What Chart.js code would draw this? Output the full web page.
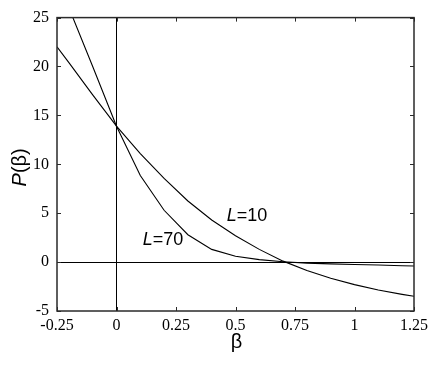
<!DOCTYPE html>
<html lang="en">
  <head>
    <meta charset="UTF-8" />
    <script src="https://cdn.jsdelivr.net/npm/chart.js@4/dist/chart.umd.min.js"></script>
    <title>P(beta)</title>
    <style>
      body { margin: 0; background: #fff; }
    </style>
  </head>
  <body>
    <canvas id="myChart" width="436" height="368"></canvas>
    <script>
      // values
      const betaL10 = [-0.25, -0.2, -0.1, 0, 0.1, 0.2, 0.3, 0.4, 0.5, 0.6, 0.7, 0.8, 0.9, 1.0, 1.1, 1.2, 1.25];
      const pL10 = [22.0, 20.4, 17.1, 13.9, 11.1, 8.55, 6.25, 4.3, 2.7, 1.3, 0.1, -0.85, -1.65, -2.3, -2.85, -3.3, -3.5];
      const betaL70 = [-0.2, -0.1, 0, 0.1, 0.2, 0.3, 0.4, 0.5, 0.6, 0.7, 0.8, 0.9, 1.0, 1.1, 1.2, 1.25];
      const pL70 = [26.0, 20.0, 13.9, 8.85, 5.3, 2.8, 1.3, 0.6, 0.25, 0.03, -0.1, -0.18, -0.25, -0.3, -0.37, -0.4];
      const xTicks = [-0.25, 0, 0.25, 0.5, 0.75, 1, 1.25];
      const yTicks = [-5, 0, 5, 10, 15, 20, 25];
      const curveLabels = [
        { num: "=10", x: 0.548, y: 4.7 },
        { num: "=70", x: 0.195, y: 2.3 },
      ];

      function toPoints(xs, ys) {
        return xs.map((x, i) => ({ x: x, y: ys[i] }));
      }

      const serif = "'Liberation Serif', 'Times New Roman', serif";
      const sans = "'Liberation Sans', Arial, sans-serif";

      // frame, inward ticks, axis titles and curve labels
      const decor = {
        id: "decor",
        afterDraw(chart) {
          const ctx = chart.ctx;
          const a = chart.chartArea;
          const xs = chart.scales.x;
          const ys = chart.scales.y;
          ctx.save();
          ctx.strokeStyle = "#2a2a2a";
          ctx.lineWidth = 1.5;
          ctx.strokeRect(a.left, a.top, a.right - a.left, a.bottom - a.top);
          ctx.lineWidth = 1;
          ctx.beginPath();
          const t = 4;
          xTicks.forEach((v) => {
            const px = Math.round(xs.getPixelForValue(v)) + 0.5;
            ctx.moveTo(px, a.bottom);
            ctx.lineTo(px, a.bottom - t);
            ctx.moveTo(px, a.top);
            ctx.lineTo(px, a.top + t);
          });
          yTicks.forEach((v) => {
            const py = Math.round(ys.getPixelForValue(v)) + 0.5;
            ctx.moveTo(a.left, py);
            ctx.lineTo(a.left + t, py);
            ctx.moveTo(a.right, py);
            ctx.lineTo(a.right - t, py);
          });
          ctx.stroke();

          ctx.fillStyle = "#000";
          ctx.textBaseline = "middle";
          // x title
          ctx.font = "20px " + sans;
          ctx.textAlign = "center";
          ctx.fillText("\u03b2", (a.left + a.right) / 2 + 1, 342);

          // y title, P in italics
          ctx.save();
          ctx.translate(20, (a.top + a.bottom) / 2 + 3);
          ctx.rotate(-Math.PI / 2);
          ctx.textAlign = "left";
          ctx.font = "italic 20px " + sans;
          const wP = ctx.measureText("P").width;
          ctx.font = "20px " + sans;
          const wR = ctx.measureText("(\u03b2)").width;
          let x0 = -(wP + wR) / 2;
          ctx.font = "italic 20px " + sans;
          ctx.fillText("P", x0, 0);
          ctx.font = "20px " + sans;
          ctx.fillText("(\u03b2)", x0 + wP, 0);
          ctx.restore();

          // curve labels
          curveLabels.forEach((lb) => {
            const cx = xs.getPixelForValue(lb.x);
            const cy = ys.getPixelForValue(lb.y);
            ctx.font = "italic 18px " + sans;
            const w1 = ctx.measureText("L").width;
            ctx.font = "18px " + sans;
            const w2 = ctx.measureText(lb.num).width;
            const lx = cx - (w1 + w2) / 2;
            ctx.textAlign = "left";
            ctx.font = "italic 18px " + sans;
            ctx.fillText("L", lx, cy);
            ctx.font = "18px " + sans;
            ctx.fillText(lb.num, lx + w1, cy);
          });
          ctx.restore();
        },
      };

      const zeroLine = (c) => (c.tick && c.tick.value === 0 ? "#000" : "rgba(0,0,0,0)");

      const config = {
        type: "scatter",
        data: {
          datasets: [
            {
              label: "L=10",
              data: toPoints(betaL10, pL10),
              showLine: true,
              borderColor: "#000",
              borderWidth: 1.1,
              pointRadius: 0,
              tension: 0,
              clip: 0,
            },
            {
              label: "L=70",
              data: toPoints(betaL70, pL70),
              showLine: true,
              borderColor: "#000",
              borderWidth: 1.1,
              pointRadius: 0,
              tension: 0,
              clip: 0,
            },
          ],
        },
        options: {
          responsive: false,
          animation: false,
          layout: { padding: { top: 16, right: 22, left: 0, bottom: 0 } },
          plugins: {
            legend: { display: false },
            tooltip: { enabled: false },
          },
          scales: {
            x: {
              type: "linear",
              min: -0.25,
              max: 1.25,
              afterBuildTicks: (s) => {
                s.ticks = xTicks.map((v) => ({ value: v }));
              },
              afterFit: (s) => {
                s.height = 57;
              },
              grid: { color: zeroLine, lineWidth: 1, drawTicks: false },
              border: { display: false },
              ticks: {
                color: "#000",
                padding: 5,
                maxRotation: 0,
                font: { family: serif, size: 16 },
                callback: (v) => String(v),
              },
            },
            y: {
              type: "linear",
              min: -5,
              max: 25,
              afterBuildTicks: (s) => {
                s.ticks = yTicks.map((v) => ({ value: v }));
              },
              afterFit: (s) => {
                s.width = 57;
              },
              grid: { color: zeroLine, lineWidth: 1, drawTicks: false },
              border: { display: false },
              ticks: {
                color: "#000",
                padding: 8,
                font: { family: serif, size: 16 },
                callback: (v) => String(v),
              },
            },
          },
        },
        plugins: [decor],
      };

      new Chart(document.getElementById("myChart"), config);
    </script>
  </body>
</html>
